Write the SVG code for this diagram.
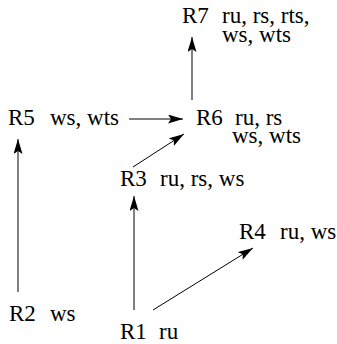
<svg xmlns="http://www.w3.org/2000/svg" width="337" height="344" viewBox="0 0 337 344">
<style>
text{font-family:"Liberation Serif","Times New Roman",serif;font-size:23px;fill:#000}
.c line{stroke:#000;stroke-width:1;fill:none;marker-end:url(#ah)}
</style>
<defs>
<marker id="ah" markerUnits="userSpaceOnUse" markerWidth="16" markerHeight="10" refX="15" refY="4.5" orient="auto">
<path d="M0,0 L15,4.5 L0,9 L3,4.5 z" fill="#000"/>
</marker>
</defs>
<rect width="337" height="344" fill="#fff"/>
<g class="c" id="connectors">
<line x1="192" y1="100" x2="192" y2="37"/>
<line x1="129" y1="119" x2="183" y2="119"/>
<line x1="133" y1="167" x2="184" y2="134"/>
<line x1="134" y1="310" x2="134" y2="196"/>
<line x1="153" y1="310" x2="253" y2="248"/>
<line x1="18" y1="292" x2="18" y2="139"/>
</g>
<g id="R7"><text x="182" y="23">R7</text><text x="222" y="23">ru, rs, rts,<tspan x="222" y="42">ws, wts</tspan></text></g>
<g id="R6"><text x="196" y="125">R6</text><text x="235" y="125">ru, rs<tspan x="232" y="143">ws, wts</tspan></text></g>
<g id="R5"><text x="8" y="125">R5</text><text x="50" y="125">ws, wts</text></g>
<g id="R3"><text x="120" y="186">R3</text><text x="160" y="186">ru, rs, ws</text></g>
<g id="R4"><text x="239" y="239">R4</text><text x="280" y="239">ru, ws</text></g>
<g id="R2"><text x="9" y="321">R2</text><text x="50" y="321">ws</text></g>
<g id="R1"><text x="120" y="339">R1</text><text x="159" y="339">ru</text></g>
</svg>
